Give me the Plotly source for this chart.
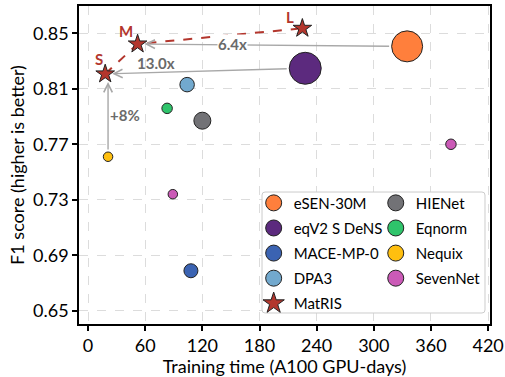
import plotly.graph_objects as go

# ---------------- data ----------------
models = ["eSEN-30M", "eqV2 S DeNS", "MACE-MP-0", "DPA3",
          "HIENet", "Eqnorm", "Nequix", "SevenNet"]
point_model = ["eSEN-30M", "eqV2 S DeNS", "MACE-MP-0", "DPA3",
               "HIENet", "Eqnorm", "Nequix", "SevenNet", "SevenNet"]
point_time = [335, 228, 108, 104, 120, 83, 21, 381, 89]
point_f1 = [0.8406, 0.8248, 0.6788, 0.8130, 0.7870, 0.7959, 0.7610, 0.7700, 0.7340]

matris_labels = ["S", "M", "L"]
matris_time = [18, 52, 225]
matris_f1 = [0.8207, 0.8423, 0.8536]

# comparisons: (from model, to MatRIS variant, label)
cmp_from = ["eSEN-30M", "eqV2 S DeNS", "Nequix"]
cmp_to = ["M", "S", "S"]
cmp_text = ["6.4x", "13.0x", "+8%"]
cmp_text_x = [152, 71, 39]
cmp_text_y = [0.8422, 0.8284, 0.7911]

x_ticks = [0, 60, 120, 180, 240, 300, 360, 420]
y_ticks = [0.65, 0.69, 0.73, 0.77, 0.81, 0.85]

# ---------------- styles ----------------
colors = {
    "eSEN-30M": "#FF7F3C",
    "eqV2 S DeNS": "#5C2A7E",
    "MACE-MP-0": "#3B63B2",
    "DPA3": "#72A9CE",
    "HIENet": "#727276",
    "Eqnorm": "#2FC46B",
    "Nequix": "#FFBF0F",
    "SevenNet": "#CB5AB7",
}
point_size = [31, 32, 14, 14.5, 17, 10.5, 9.5, 10.5, 9.5]
star_color = "#B3362D"
arrow_color = "#A8A8A8"
FONT = "Lato, Carlito, Calibri, sans-serif"

fig = go.Figure()

# model points
for m in models:
    idx = [i for i, pm in enumerate(point_model) if pm == m]
    fig.add_trace(go.Scatter(
        x=[point_time[i] for i in idx], y=[point_f1[i] for i in idx],
        mode="markers", showlegend=False, hoverinfo="skip",
        marker=dict(size=[point_size[i] for i in idx], color=colors[m],
                    line=dict(color="#222222", width=1), opacity=1),
    ))

# MatRIS dashed path + stars
fig.add_trace(go.Scatter(x=matris_time, y=matris_f1, mode="lines", showlegend=False,
                         line=dict(color=star_color, width=2, dash="dash"), hoverinfo="skip"))
fig.add_trace(go.Scatter(x=matris_time, y=matris_f1, mode="markers", showlegend=False,
                         marker=dict(symbol="star", size=14, color=star_color,
                                     line=dict(color="#222222", width=1)), hoverinfo="skip"))

# legend-only entries
col1 = ["eSEN-30M", "eqV2 S DeNS", "MACE-MP-0", "DPA3"]
col2 = ["HIENet", "Eqnorm", "Nequix", "SevenNet"]
for m in col1 + ["MatRIS"] + col2:
    leg = "legend" if (m in col1 or m == "MatRIS") else "legend2"
    if m == "MatRIS":
        mk = dict(symbol="star", size=16, color=star_color, line=dict(color="#222222", width=1))
    else:
        mk = dict(symbol="circle", size=16, color=colors[m], line=dict(color="#222222", width=1))
    fig.add_trace(go.Scatter(x=[None], y=[None], mode="markers", name=m, marker=mk,
                             legend=leg, legendgroup=m, showlegend=True))

# comparison arrows
ann = []
for fm, tm, tx, lx, ly in zip(cmp_from, cmp_to, cmp_text, cmp_text_x, cmp_text_y):
    i = point_model.index(fm)
    j = matris_labels.index(tm)
    x0, y0 = point_time[i], point_f1[i]
    if fm == "Nequix":
        hx, hy = x0, matris_f1[j]
        sso, so = point_size[i] / 2 + 1, 8
    else:
        hx, hy = matris_time[j], matris_f1[j]
        sso, so = point_size[i] / 2 + 1, 7
    ann.append(dict(x=hx, y=hy, ax=x0, ay=y0, xref="x", yref="y", axref="x", ayref="y",
                    text="", showarrow=True, arrowhead=5, arrowsize=1.2, arrowwidth=1.4,
                    arrowcolor=arrow_color, standoff=so, startstandoff=sso))
    ann.append(dict(x=lx, y=ly, xref="x", yref="y", text=f"<b>{tx}</b>", showarrow=False,
                    font=dict(family=FONT, size=15, color="#6A6A6A"),
                    bgcolor="white" if fm == "eSEN-30M" else "rgba(0,0,0,0)", borderpad=0))

# MatRIS size labels
shifts = {"S": (-6, 15), "M": (-12, 13), "L": (-12, 11)}
for lab, tx, ty in zip(matris_labels, matris_time, matris_f1):
    ann.append(dict(x=tx, y=ty, xref="x", yref="y", text=f"<b>{lab}</b>", showarrow=False,
                    xshift=shifts[lab][0], yshift=shifts[lab][1],
                    font=dict(family=FONT, size=15, color=star_color)))

# legend frame (rounded)
x0p, x1p, y0p, y1p = 0.4453, 0.9878, 0.0346, 0.415
rx, ry = 3 / 411, 3 / 318
path = (f"M{x0p+rx},{y0p} L{x1p-rx},{y0p} Q{x1p},{y0p} {x1p},{y0p+ry} "
        f"L{x1p},{y1p-ry} Q{x1p},{y1p} {x1p-rx},{y1p} L{x0p+rx},{y1p} "
        f"Q{x0p},{y1p} {x0p},{y1p-ry} L{x0p},{y0p+ry} Q{x0p},{y0p} {x0p+rx},{y0p} Z")

axis_common = dict(showline=True, linecolor="black", linewidth=1.6, mirror=True,
                   ticks="outside", ticklen=5, tickwidth=1.5, tickcolor="black",
                   showgrid=True, gridcolor="#DCDCDC", griddash="dash", gridwidth=1,
                   zeroline=False, automargin=False,
                   tickfont=dict(family=FONT, size=18, color="black"))

fig.update_layout(
    width=505, height=377,
    margin=dict(l=79, r=15, t=6, b=53),
    paper_bgcolor="white", plot_bgcolor="white",
    font=dict(family=FONT, color="black"),
    xaxis=dict(range=[-9.5, 422], tickvals=x_ticks, ticktext=[str(v) for v in x_ticks],
               title=dict(text="Training time (A100 GPU-days)", font=dict(family=FONT, size=18),
                          standoff=2),
               **axis_common),
    yaxis=dict(range=[0.6404, 0.8697], tickvals=y_ticks, ticktext=[f"{v:.2f}" for v in y_ticks],
               title=dict(text="F1 score (higher is better)", font=dict(family=FONT, size=18),
                          standoff=4),
               **axis_common),
    annotations=ann,
    shapes=[dict(type="path", path=path, xref="paper", yref="paper",
                 line=dict(color="#CCCCCC", width=1), fillcolor="white", layer="above")],
    legend=dict(x=0.425, y=0.432, xanchor="left", yanchor="top", orientation="v",
                bgcolor="rgba(0,0,0,0)", borderwidth=0, tracegroupgap=2.6,
                font=dict(family=FONT, size=15, color="black"), itemsizing="trace"),
    legend2=dict(x=0.722, y=0.432, xanchor="left", yanchor="top", orientation="v",
                 bgcolor="rgba(0,0,0,0)", borderwidth=0, tracegroupgap=2.6,
                 font=dict(family=FONT, size=15, color="black"), itemsizing="trace"),
)

fig.write_html("out.html", config={"displayModeBar": False},
               post_script="document.body.style.margin='0';")
